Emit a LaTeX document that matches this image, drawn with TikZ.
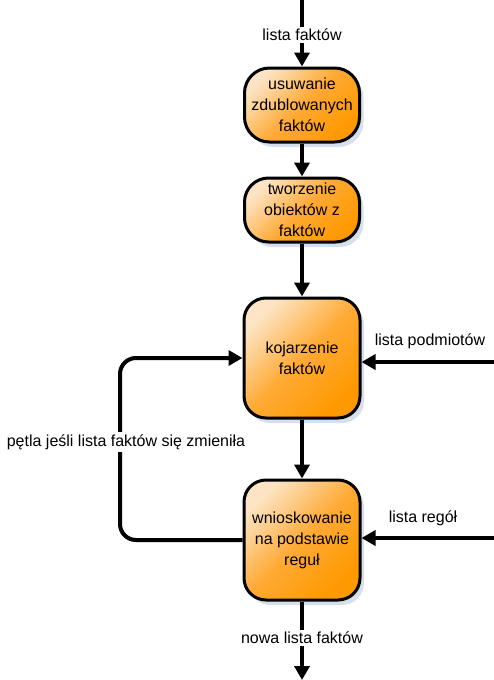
\documentclass[tikz,border=0pt]{standalone}
\usepackage{fontspec}
\setmainfont{Liberation Sans}
\usetikzlibrary{arrows.meta,shadows}
\definecolor{lightor}{HTML}{FCE4C4}
\definecolor{midor}{HTML}{FFAA35}
\definecolor{deepor}{HTML}{FF9900}
\definecolor{shad}{HTML}{D6E0EC}
\tikzset{
  box/.style={draw=black, line width=3pt, align=center, font=\fontsize{16}{21}\selectfont,
    top color=lightor, bottom color=deepor, middle color=midor, shading angle=45,
    drop shadow={fill=shad, opacity=1, shadow xshift=4pt, shadow yshift=-5pt}},
  arr/.style={line width=4pt, -{Triangle[length=14pt,width=15pt]}},
  lbl/.style={font=\fontsize{16}{20}\selectfont, inner sep=2pt},
  wl/.style={lbl, fill=white}
}
\begin{document}
\begin{tikzpicture}[x=1pt,y=-1pt]
\useasboundingbox (0,0) rectangle (494,680);
\node[box, minimum width=115pt, minimum height=74pt, rounded corners=25pt] (b1) at (302,105) {usuwanie\\zdublowanych\\faktów};
\node[box, minimum width=115pt, minimum height=64pt, rounded corners=24pt] (b2) at (302,210) {tworzenie\\obiektów z\\faktów};
\node[box, minimum width=116pt, minimum height=120pt, rounded corners=22pt] (b3) at (302,358) {kojarzenie\\faktów};
\node[box, minimum width=116pt, minimum height=120pt, rounded corners=22pt] (b4) at (302,540) {wnioskowanie\\na podstawie\\reguł};
\coordinate (in) at (302,0);
\coordinate (out) at (302,680);
\coordinate (pin) at (494,362);
\coordinate (rin) at (494,538);
\coordinate (lx) at (120,0);
\draw[arr] (in) -- node[wl, pos=0.52] (l1) {lista faktów} (b1);
\draw[arr] (b1) -- (b2);
\draw[arr] (b2) -- (b3);
\draw[arr] (b3) -- (b4);
\draw[arr] (b4) -- node[wl, pos=0.46] (l2) {nowa lista faktów} (out);
\draw[arr] (pin) -- (pin -| b3.east);
\draw[arr] (rin) -- (rin -| b4.east);
\node[lbl] (l3) at (430,341) {lista podmiotów};
\node[lbl] (l4) at (423,518) {lista regół};
\draw[arr, rounded corners=16pt] (b4.west) -- (lx |- b4.west) -- (lx |- b3.west) -- (b3.west);
\node[wl] (l5) at (126,442) {pętla jeśli lista faktów się zmieniła};
\end{tikzpicture}
\end{document}
